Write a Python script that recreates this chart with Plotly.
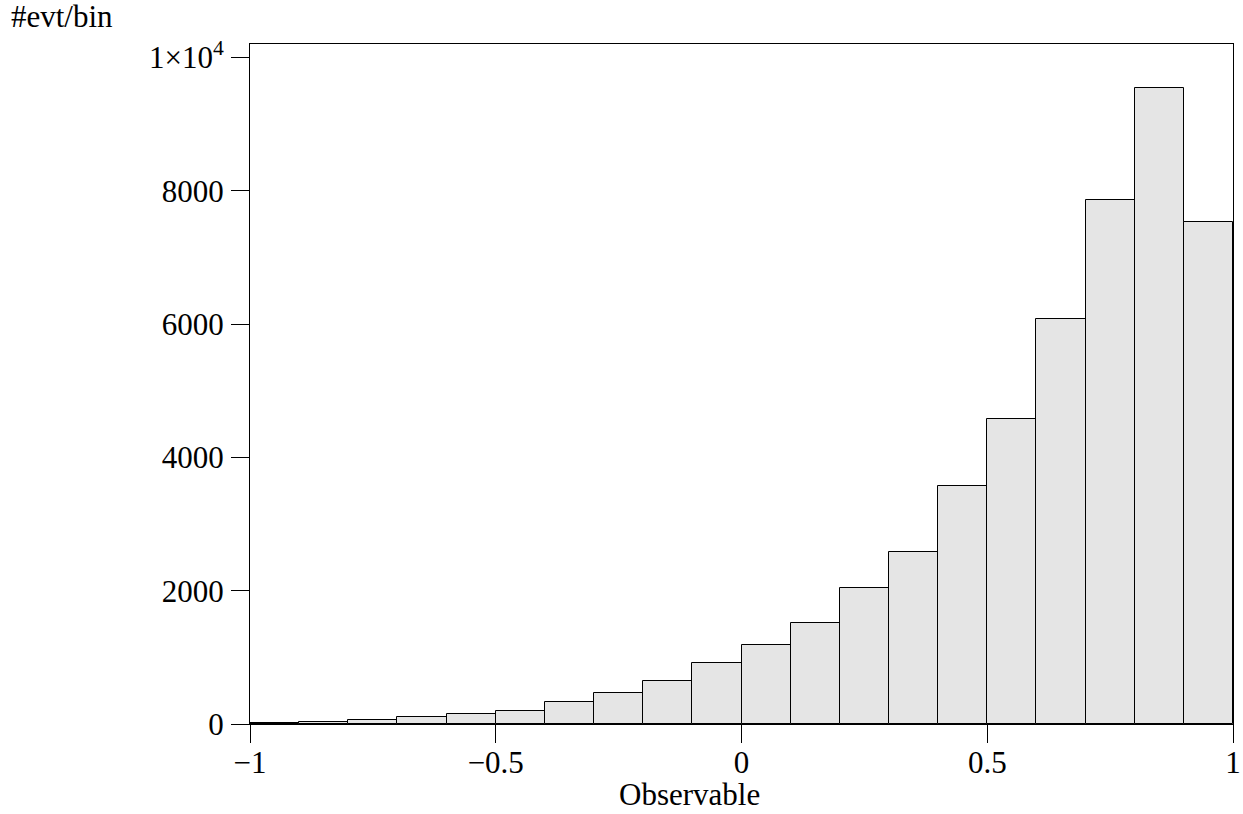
import plotly.graph_objects as go

# Histogram of the observable: 20 equal bins on [-1, 1]
bin_edges = [round(-1.0 + 0.1 * i, 1) for i in range(21)]
counts = [8, 25, 55, 100, 145, 195, 325, 460, 650, 910,
          1185, 1515, 2045, 2575, 3565, 4570, 6070, 7860, 9535, 7530]

x_ticks = [-1, -0.5, 0, 0.5, 1]
x_tick_labels = ["\u22121", "\u22120.5", "0", "0.5", "1"]
y_ticks = [0, 2000, 4000, 6000, 8000, 10000]
y_tick_labels = ["0", "2000", "4000", "6000", "8000", "1\u00d710<sup>4</sup>"]

centers = [(a + b) / 2 for a, b in zip(bin_edges[:-1], bin_edges[1:])]
widths = [b - a for a, b in zip(bin_edges[:-1], bin_edges[1:])]

FONT = "Liberation Serif"
FS = 31

# plot-area geometry in pixels
W, H = 1243, 814
L, R, T, B = 250, 10, 44, 90
PW, PH = W - L - R, H - T - B

fig = go.Figure(
    go.Bar(
        x=centers,
        y=counts,
        width=widths,
        marker=dict(color="#e5e5e5", line=dict(color="black", width=1)),
        hovertemplate="%{x}: %{y}<extra></extra>",
    )
)

axis_common = dict(
    showline=True,
    linecolor="black",
    linewidth=1,
    mirror=True,
    ticks="outside",
    ticklen=18,
    tickwidth=1,
    tickcolor="black",
    showgrid=False,
    zeroline=False,
    automargin=False,
    ticklabeloverflow="allow",
    tickfont=dict(family=FONT, size=FS, color="black"),
)

fig.update_layout(
    width=W,
    height=H,
    margin=dict(l=L, r=R, t=T, b=B),
    paper_bgcolor="white",
    plot_bgcolor="white",
    showlegend=False,
    bargap=0,
    xaxis=dict(
        range=[-1, 1],
        tickvals=x_ticks,
        ticktext=x_tick_labels,
        ticklabelstandoff=-7,
        **axis_common,
    ),
    yaxis=dict(
        range=[0, 10200],
        tickvals=y_ticks,
        ticktext=y_tick_labels,
        ticklabelstandoff=1,
        **axis_common,
    ),
    annotations=[
        dict(
            text="#evt/bin",
            xref="paper", yref="paper",
            x=(9 - L) / PW, y=(H - B - 17) / PH,
            xanchor="left", yanchor="middle",
            showarrow=False,
            font=dict(family=FONT, size=FS, color="black"),
        ),
        dict(
            text="Observable",
            xref="paper", yref="paper",
            x=(689 - L) / PW, y=-(794 - (H - B)) / PH,
            xanchor="center", yanchor="middle",
            showarrow=False,
            font=dict(family=FONT, size=FS, color="black"),
        ),
    ],
)

fig.write_html("out.html")
